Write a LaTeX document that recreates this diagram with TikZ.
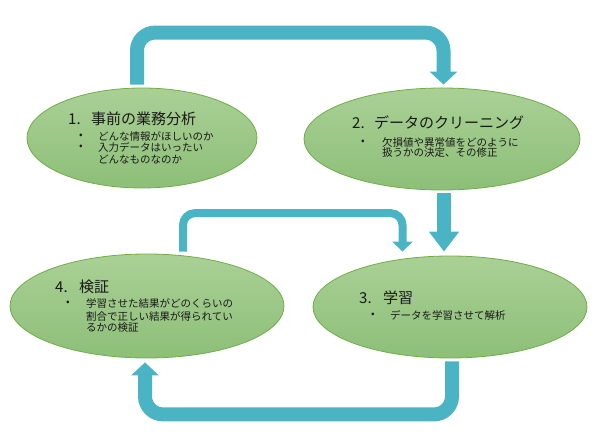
\documentclass[tikz,border=0pt]{standalone}
\usepackage{fontspec}
\setmainfont{Noto Sans CJK JP}
\usetikzlibrary{arrows.meta,shapes.geometric}
\definecolor{teal1}{RGB}{75,180,196}
\definecolor{edgeg}{RGB}{112,173,71}
\definecolor{gtop}{RGB}{170,208,150}
\definecolor{gbot}{RGB}{141,191,120}
\definecolor{txt}{RGB}{25,25,25}
\begin{document}
\begin{tikzpicture}[x=1pt,y=1pt,
  stage/.style={ellipse,draw=edgeg,line width=0.8pt,top color=gtop,bottom color=gbot,inner sep=0pt},
  flow/.style={draw=teal1,line width=14pt,rounded corners=18pt,-{Triangle[width=27pt,length=13pt]}},
  thinflow/.style={draw=teal1,line width=8pt,rounded corners=12pt,-{Triangle[width=20pt,length=10pt]}},
  bigflow/.style={draw=teal1,line width=14pt,-{Triangle[width=29pt,length=20pt]}},
  ttl/.style={anchor=west,inner sep=0pt,text=txt,font=\fontsize{15}{18}\selectfont},
  itm/.style={anchor=west,inner sep=0pt,text=txt,font=\fontsize{10.5}{12}\selectfont},
  num/.style={}]
\useasboundingbox (0,0) rectangle (593,442);
% stages
\node[stage,minimum width=230pt,minimum height=100pt] (e1) at (142,304) {};
\node[stage,minimum width=276pt,minimum height=102pt] (e2) at (442,303) {};
\node[stage,minimum width=274pt,minimum height=102pt] (e3) at (450,135) {};
\node[stage,minimum width=274pt,minimum height=104pt] (e4) at (147,136) {};
% texts 1
\node[ttl] (t1) at (68,323) {\makebox[23pt][l]{1.}事前の業務分析};
\node[itm] (b1a) at (79,306) {•};
\node[itm] (l1a) at (98,306) {どんな情報がほしいのか};
\node[itm] (b1b) at (79,295) {•};
\node[itm] (l1b) at (98,295) {入力データはいったい};
\node[itm] (l1c) at (98,283) {どんなものなのか};
% texts 2
\node[ttl] (t2) at (352,319) {\makebox[22pt][l]{2.}データのクリーニング};
\node[itm] (b2a) at (361,300) {•};
\node[itm] (l2a) at (382,300) {欠損値や異常値をどのように};
\node[itm] (l2b) at (382,289) {扱うかの決定、その修正};
% texts 3
\node[ttl] (t3) at (359,144) {\makebox[24pt][l]{3.}学習};
\node[itm] (b3a) at (371,127) {•};
\node[itm] (l3a) at (390,127) {データを学習させて解析};
% texts 4
\node[ttl] (t4) at (55,155) {\makebox[24pt][l]{4.}検証};
\node[itm] (b4a) at (66,139) {•};
\node[itm] (l4a) at (86,139) {学習させた結果がどのくらいの};
\node[itm] (l4b) at (86,126) {割合で正しい結果が得られてい};
\node[itm] (l4c) at (86,114) {るかの検証};
% connectors
\draw[flow] ([xshift=-5pt,yshift=3pt]e1.north) -- ++(0,52) -| ([xshift=1.5pt,yshift=3pt]e2.north);
\draw[bigflow] ([xshift=2pt,yshift=-3pt]e2.south) -- ([xshift=-6pt,yshift=4pt]e3.north);
\draw[thinflow] ([xshift=36pt,yshift=2pt]e4.north) -- ++(0,38.5) -| ([xshift=-47.5pt,yshift=4pt]e3.north);
\draw[flow] ([xshift=2pt,yshift=-3pt]e3.south) -- ++(0,-53) -| ([xshift=-2pt,yshift=-4pt]e4.south);
\end{tikzpicture}
\end{document}
